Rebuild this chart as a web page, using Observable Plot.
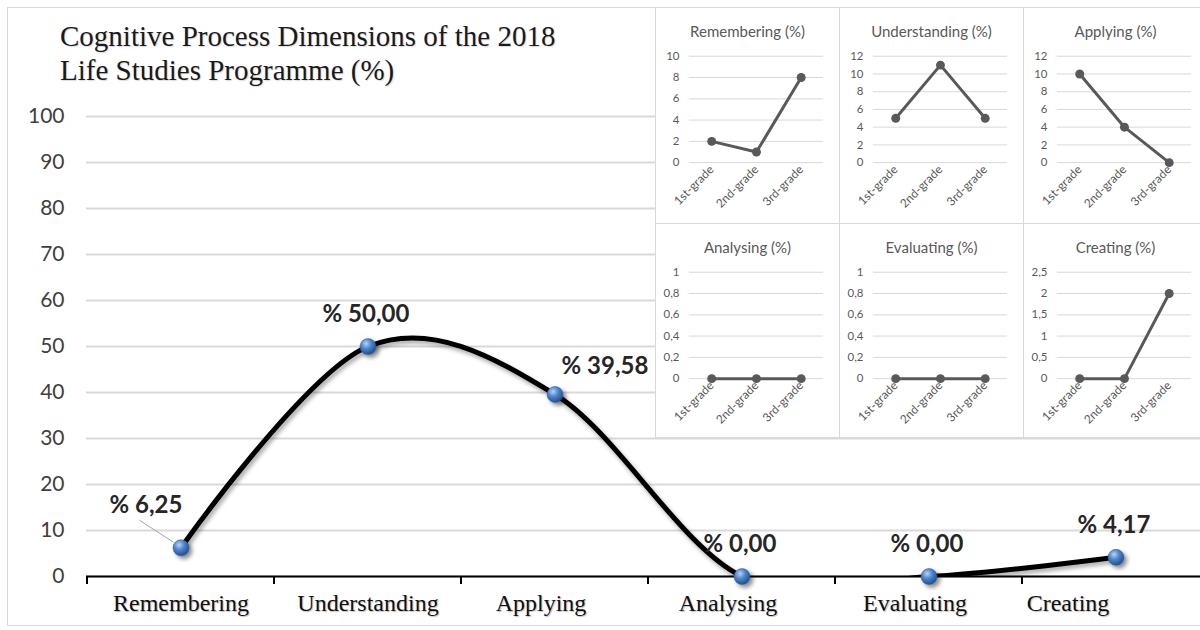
<!DOCTYPE html>
<html>
<head>
<meta charset="utf-8">
<script src="https://cdn.jsdelivr.net/npm/d3@7"></script>
<script src="https://cdn.jsdelivr.net/npm/@observablehq/plot@0.6"></script>
<style>
  html, body { margin: 0; padding: 0; background: #fff; }
  body { width: 1200px; height: 630px; overflow: hidden; position: relative; font-family: Lato, "Open Sans", sans-serif; }
  #frame { position: absolute; left: 7px; top: 7px; width: 1300px; height: 619px; border: 1px solid #d9d9d9; box-sizing: border-box; }
  #main { position: absolute; left: 0; top: 0; }
  #title { position: absolute; left: 60px; top: 19px; font: 29px/34px "Liberation Serif", "Times New Roman", serif; color: #1a1a1a; text-shadow: 1px 1px 1px rgba(0,0,0,0.15); }
  #panels { position: absolute; left: 655px; top: 7px; display: grid; grid-template-columns: 184px 184px 184px; grid-template-rows: 216px 214px; background: #fff; border-left: 1px solid #d9d9d9; border-top: 1px solid #d9d9d9; }
  .panel { position: relative; border-right: 1px solid #d9d9d9; border-bottom: 1px solid #d9d9d9; box-sizing: border-box; background: #fff; }
  .ptitle { position: absolute; left: 0; right: 0; top: 13px; text-align: center; font: 15px/20px Lato, "Open Sans", sans-serif; color: #595959; }
  .panel svg { position: absolute; left: 0; top: 0; }
</style>
</head>
<body>
<div id="frame"></div>
<div id="main"></div>
<div id="title">Cognitive Process Dimensions of the 2018<br>Life Studies Programme (%)</div>
<div id="panels"></div>
<script>
// ---- main chart data ----
const categories = ["Remembering", "Understanding", "Applying", "Analysing", "Evaluating", "Creating"];
const values = [6.25, 50.00, 39.58, 0.00, 0.00, 4.17];
const valueLabels = ["% 6,25", "% 50,00", "% 39,58", "% 0,00", "% 0,00", "% 4,17"];
const yTicks = [0, 10, 20, 30, 40, 50, 60, 70, 80, 90, 100];

// ---- small multiples data ----
const grades = ["1st-grade", "2nd-grade", "3rd-grade"];
const panelTitles = ["Remembering (%)", "Understanding (%)", "Applying (%)", "Analysing (%)", "Evaluating (%)", "Creating (%)"];
const remembering = [2, 1, 8];
const understanding = [5, 11, 5];
const applying = [10, 4, 0];
const analysing = [0, 0, 0];
const evaluating = [0, 0, 0];
const creating = [0, 0, 2];
const ticksRemembering = [0, 2, 4, 6, 8, 10];
const ticksUnderstanding = [0, 2, 4, 6, 8, 10, 12];
const ticksApplying = [0, 2, 4, 6, 8, 10, 12];
const ticksAnalysing = [0, 0.2, 0.4, 0.6, 0.8, 1];
const ticksEvaluating = [0, 0.2, 0.4, 0.6, 0.8, 1];
const ticksCreating = [0, 0.5, 1, 1.5, 2, 2.5];

const panelSeries = [remembering, understanding, applying, analysing, evaluating, creating];
const panelTicks = [ticksRemembering, ticksUnderstanding, ticksApplying, ticksAnalysing, ticksEvaluating, ticksCreating];

// ---- main chart ----
const data = categories.map((c, i) => ({ c, v: values[i], label: valueLabels[i], i }));
const plainLabels = data.filter(d => d.i !== 0 && d.i !== 2);
const sans = "Lato, 'Open Sans', sans-serif";
const serif = "'Liberation Serif', 'Times New Roman', serif";
const xAxisStyle = { tickSize: 0, tickPadding: 17, fontSize: 24, fill: "#111", fontFamily: serif, label: null };
const labelStyle = { x: "c", y: "v", text: "label", fontSize: 24, fontWeight: "bold", fill: "#262626", fontFamily: sans };

const main = Plot.plot({
  width: 1200,
  height: 630,
  marginLeft: 86,
  marginRight: 0,
  marginTop: 116,
  marginBottom: 54,
  style: { background: "transparent", overflow: "visible" },
  x: { type: "band", domain: categories, range: [86, 1209], padding: 0, label: null },
  y: { domain: [0, 100], label: null },
  marks: [
    Plot.gridY(yTicks, { stroke: "#d9d9d9", strokeOpacity: 1, strokeWidth: 2 }),
    Plot.axisY(yTicks, { tickSize: 0, tickPadding: 22, fontSize: 21, fill: "#404040", fontFamily: sans, label: null }),
    Plot.axisX(categories.slice(0, 2), xAxisStyle),
    Plot.axisX(categories.slice(2, 5), { ...xAxisStyle, dx: -14 }),
    Plot.axisX(categories.slice(5), { ...xAxisStyle, dx: -48 }),
    Plot.ruleY([0], { stroke: "#000", strokeWidth: 2 }),
    Plot.line(data, { x: "c", y: "v", curve: "cardinal", stroke: "#000", strokeWidth: 5, clip: true }),
    Plot.dot(data, { x: "c", y: "v", r: 8, fill: "url(#ball)", stroke: "#2c5d9e", strokeWidth: 0.5 }),
    Plot.text(plainLabels, { ...labelStyle, dx: -2, dy: -32 }),
    Plot.text(data.filter(d => d.i === 0), { ...labelStyle, dx: -35, dy: -42 }),
    Plot.text(data.filter(d => d.i === 2), { ...labelStyle, dx: 50, dy: -28 })
  ]
});
document.getElementById("main").appendChild(main);

// decorations using the plot's own scales
(function () {
  const svg = d3.select(main);
  const defs = svg.insert("defs", ":first-child");
  const grad = defs.append("radialGradient").attr("id", "ball").attr("cx", "38%").attr("cy", "32%").attr("r", "70%");
  grad.append("stop").attr("offset", "0%").attr("stop-color", "#b8d4f5");
  grad.append("stop").attr("offset", "45%").attr("stop-color", "#4f86cc");
  grad.append("stop").attr("offset", "100%").attr("stop-color", "#1d4f91");

  svg.selectAll("g[aria-label='line']").style("filter", "drop-shadow(2px 3px 2px rgba(0,0,0,0.35))");
  svg.selectAll("g[aria-label='dot']").style("filter", "drop-shadow(3px 3px 2px rgba(0,0,0,0.45))");
  svg.selectAll("g[aria-label='x-axis tick label']").style("text-shadow", "1px 1px 1px rgba(0,0,0,0.25)");

  const xs = main.scale("x");
  const ys = main.scale("y");
  const bw = xs.bandwidth;
  const y0 = ys.apply(0);
  const tickG = svg.append("g").attr("stroke", "#000").attr("stroke-width", 2);
  categories.forEach(c => {
    const x = xs.apply(c);
    tickG.append("line").attr("x1", x).attr("x2", x).attr("y1", y0).attr("y2", y0 + 8);
  });
  // leader line for the first label
  const cx = xs.apply(categories[0]) + bw / 2;
  const cy = ys.apply(values[0]);
  svg.append("line").attr("x1", cx - 41).attr("y1", cy - 27).attr("x2", cx - 7).attr("y2", cy - 5)
    .attr("stroke", "#a6a6a6").attr("stroke-width", 1);
  svg.selectAll("g[aria-label='dot']").raise();
  svg.selectAll("g[aria-label='text']").raise();
})();

// ---- small multiples ----
const fmt = d => String(d).replace(".", ",");
const container = document.getElementById("panels");
panelTitles.forEach((t, k) => {
  const div = document.createElement("div");
  div.className = "panel";
  const rows = grades.map((g, i) => ({ g, v: panelSeries[k][i] }));
  const ticks = panelTicks[k];
  const p = Plot.plot({
    width: 184,
    height: 214,
    marginLeft: 33,
    marginRight: 16,
    marginTop: 48,
    marginBottom: 59,
    style: { background: "transparent", overflow: "visible" },
    x: { type: "band", domain: grades, padding: 0, label: null },
    y: { domain: [0, ticks[ticks.length - 1]], label: null },
    marks: [
      Plot.gridY(ticks, { stroke: "#d9d9d9", strokeOpacity: 1 }),
      Plot.axisY(ticks, { tickSize: 0, tickPadding: 10, fontSize: 11.5, fill: "#595959", tickFormat: fmt, fontFamily: sans, label: null }),
      Plot.axisX({ tickSize: 0, tickPadding: 5, tickRotate: -45, fontSize: 12, fill: "#595959", fontFamily: sans, label: null }),
      Plot.line(rows, { x: "g", y: "v", stroke: "#595959", strokeWidth: 3 }),
      Plot.dot(rows, { x: "g", y: "v", r: 4.5, fill: "#595959" })
    ]
  });
  const title = document.createElement("div");
  title.className = "ptitle";
  title.textContent = t;
  div.appendChild(p);
  div.appendChild(title);
  container.appendChild(div);
});
</script>
</body>
</html>
